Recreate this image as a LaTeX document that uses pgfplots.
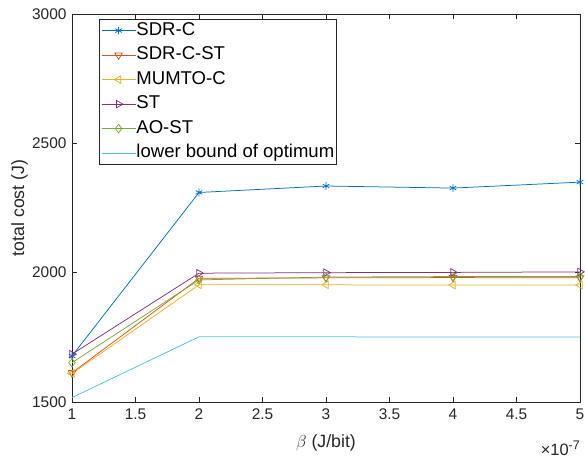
\documentclass[border=0pt]{standalone}
\usepackage{fontspec}
\setmainfont{Liberation Sans}
\usepackage{pgfplots}
\pgfplotsset{compat=1.18}
\definecolor{c1}{rgb}{0,0.447,0.741}
\definecolor{c2}{rgb}{0.85,0.325,0.098}
\definecolor{c3}{rgb}{0.929,0.694,0.125}
\definecolor{c4}{rgb}{0.494,0.184,0.556}
\definecolor{c5}{rgb}{0.466,0.674,0.188}
\definecolor{c6}{rgb}{0.301,0.745,0.933}
\definecolor{axgray}{rgb}{0.15,0.15,0.15}
\begin{document}
\begin{tikzpicture}
\begin{axis}[
  name=ax,
  scale only axis,
  width=508bp, height=388bp,
  at={(0,0)}, anchor=south west,
  xmin=1, xmax=5, ymin=1500, ymax=3000,
  xtick={1,1.5,2,2.5,3,3.5,4,4.5,5},
  ytick={1500,2000,2500,3000},
  /pgf/number format/assume math mode=true,
  /pgf/number format/1000 sep={},
  ticklabel style={font=\fontsize{15.5}{18}\selectfont, text=axgray},
  xticklabel style={yshift=-3bp},
  yticklabel style={xshift=-2bp},
  tick align=inside,
  major tick length=5bp,
  tick style={axgray, line width=0.6bp},
  axis line style={axgray, line width=0.6bp},
  xlabel={$\beta$ (J/bit)},
  ylabel={total cost (J)},
  label style={font=\fontsize{17.8}{21}\selectfont, text=axgray},
  xlabel style={at={(axis description cs:0.5,0)}, anchor=north, yshift=-29bp},
  ylabel style={at={(axis description cs:-0.08,0.5)}, anchor=south},
  legend cell align=left,
  legend style={at={(axis description cs:0.053,0.987)}, anchor=north west,
    font=\fontsize{18.6}{21}\selectfont, draw=axgray, line width=0.6bp,
    inner xsep=2bp, inner ysep=2bp,
    row sep=6bp,
    nodes={inner sep=0.5bp, text height=13.5bp, text depth=4bp}},
  legend image code/.code={\draw[mark repeat=2,mark phase=2] plot coordinates {(0bp,0bp)(17bp,0bp)(34bp,0bp)};},
  every axis plot/.append style={line width=0.75bp},
]
\addplot[c1, mark=asterisk, mark size=3.8bp] coordinates {(1,1678)(2,2310)(3,2335)(4,2327)(5,2350)};
\addlegendentry{SDR-C}
\addplot[c2, mark=triangle, mark size=4.3bp, mark options={rotate=180}] coordinates {(1,1613)(2,1978)(3,1980)(4,1981)(5,1980)};
\addlegendentry{SDR-C-ST}
\addplot[c3, mark=triangle, mark size=4.3bp, mark options={rotate=90}] coordinates {(1,1610)(2,1953)(3,1953)(4,1952)(5,1952)};
\addlegendentry{MUMTO-C}
\addplot[c4, mark=triangle, mark size=4.3bp, mark options={rotate=-90}] coordinates {(1,1685)(2,1998)(3,2000)(4,2001)(5,2003)};
\addlegendentry{ST}
\addplot[c5, mark=diamond, mark size=4.3bp] coordinates {(1,1652)(2,1972)(3,1983)(4,1985)(5,1985)};
\addlegendentry{AO-ST}
\addplot[c6] coordinates {(1,1517)(2,1752)(3,1752)(4,1751)(5,1751)};
\addlegendentry{lower bound of optimum}
\end{axis}
\node[anchor=north east, font=\fontsize{16.5}{18}\selectfont, text=axgray, inner sep=0pt] at ([yshift=-39bp]ax.south east) {×10\raisebox{6bp}{\fontsize{12.5}{14}\selectfont -7}};
\pgfresetboundingbox
\path (-72bp,-57bp) rectangle (513bp,402bp);
\end{tikzpicture}
\end{document}
